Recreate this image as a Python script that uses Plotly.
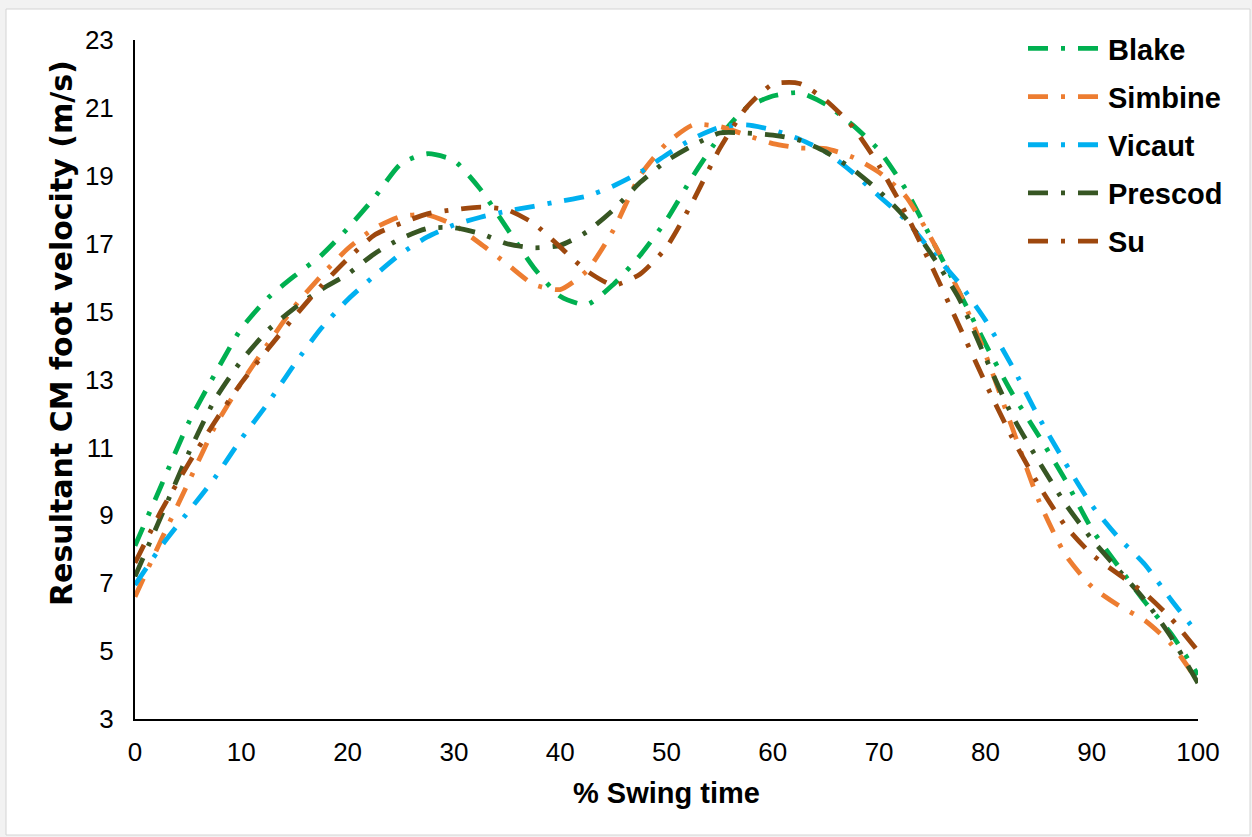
import plotly.graph_objects as go

swing_pct = [0, 2.5, 5, 7.5, 10, 12.5, 15, 17.5, 20, 22.5, 25, 27.5, 30, 32.5, 35, 37.5, 40,
             42.5, 45, 47.5, 50, 52.5, 55, 57.5, 60, 62.5, 65, 67.5, 70, 72.5, 75, 77.5, 80,
             82.5, 85, 87.5, 90, 92.5, 95, 97.5, 100]

blake = [8.1, 9.9, 11.7, 13.15, 14.5, 15.4, 16.05, 16.65, 17.45, 18.35, 19.35, 19.65, 19.45,
         18.6, 17.45, 16.3, 15.45, 15.2, 15.8, 16.65, 17.7, 19.0, 20.15, 21.0, 21.35, 21.45,
         21.1, 20.5, 19.75, 18.6, 17.1, 15.6, 14.05, 12.6, 11.35, 10.05, 8.6, 7.5, 6.45, 5.5, 4.3]
simbine = [6.6, 8.3, 9.95, 11.6, 12.9, 14.05, 15.15, 16.05, 16.85, 17.45, 17.8, 17.85, 17.55,
           17.0, 16.4, 15.8, 15.65, 16.2, 17.4, 19.0, 19.95, 20.5, 20.45, 20.2, 19.95, 19.82,
           19.8, 19.55, 19.1, 18.4, 17.1, 15.6, 13.75, 11.6, 9.45, 7.85, 6.9, 6.35, 5.9, 5.2, 4.1]
vicaut = [6.95, 8.1, 9.1, 10.1, 11.25, 12.3, 13.45, 14.5, 15.35, 16.05, 16.7, 17.2, 17.55,
          17.78, 17.96, 18.1, 18.25, 18.4, 18.7, 19.1, 19.62, 20.1, 20.43, 20.5, 20.35, 20.08,
          19.7, 19.1, 18.4, 17.7, 16.75, 15.85, 14.75, 13.4, 11.9, 10.55, 9.3, 8.35, 7.55, 6.5, 5.5]
prescod = [7.2, 9.0, 10.8, 12.4, 13.55, 14.45, 15.1, 15.65, 16.1, 16.7, 17.15, 17.45, 17.47,
           17.3, 17.0, 16.88, 16.95, 17.35, 18.0, 18.8, 19.44, 19.9, 20.26, 20.26, 20.2, 20.05,
           19.7, 19.2, 18.55, 17.75, 16.65, 15.4, 13.65, 11.95, 10.6, 9.35, 8.3, 7.4, 6.5, 5.4, 4.05]
su = [7.6, 9.15, 10.5, 11.75, 12.9, 13.9, 14.85, 15.75, 16.55, 17.25, 17.6, 17.88, 18.0,
      18.08, 18.0, 17.6, 16.9, 16.2, 15.78, 16.1, 16.9, 18.26, 19.8, 21.0, 21.7, 21.72,
      21.22, 20.45, 19.3, 17.9, 16.3, 14.6, 12.9, 11.3, 9.9, 8.7, 7.85, 7.27, 6.7, 5.95, 5.0]

series_names = ["Blake", "Simbine", "Vicaut", "Prescod", "Su"]
series_values = [blake, simbine, vicaut, prescod, su]
series_colors = ["#00B050", "#ED7D31", "#00B0F0", "#375623", "#9E480E"]

x_ticks = list(range(0, 101, 10))
y_ticks = list(range(3, 24, 2))

fig = go.Figure()
for name, vals, col in zip(series_names, series_values, series_colors):
    fig.add_trace(go.Scatter(
        x=swing_pct, y=vals, name=name, mode="lines", legendgroup=name,
        line=dict(color=col, width=4.8, dash="20px,13px,4px,13px", shape="spline", smoothing=0.6),
    ))

L, R, T, B = 135, 1198, 40, 719
W, H = 1252, 837
pw, ph = R - L, B - T

def px(xp):
    return (xp - L) / pw

def py(yp):
    return (B - yp) / ph

fig.add_shape(type="rect", xref="paper", yref="paper",
              x0=px(6), x1=px(1250), y0=py(835), y1=py(9),
              line=dict(color="#d4d4d4", width=1), fillcolor="white", layer="below")

fig.add_annotation(text="<b>% Swing time</b>", xref="paper", yref="paper",
                   x=px(666), y=py(793), xanchor="center", yanchor="middle", showarrow=False,
                   font=dict(size=29, color="black", family="Liberation Sans, Arial, sans-serif"))
fig.add_annotation(text="<b>Resultant CM foot velocity (m/s)</b>", xref="paper", yref="paper",
                   x=px(61), y=py(333), xanchor="center", yanchor="middle", showarrow=False,
                   textangle=-90,
                   font=dict(size=30, color="black", family="DejaVu Sans, sans-serif"))

fig.update_layout(
    width=W, height=H,
    margin=dict(l=L, r=W - R, t=T, b=H - B),
    paper_bgcolor="#f2f2f2", plot_bgcolor="rgba(0,0,0,0)",
    font=dict(family="Liberation Sans, Arial, sans-serif", color="black"),
    showlegend=True,
    legend=dict(
        x=px(1023), y=py(23), xanchor="left", yanchor="top",
        font=dict(size=29, color="black", family="Liberation Sans, Arial, sans-serif", weight="bold"),
        itemwidth=75, traceorder="grouped", tracegroupgap=7.5,
        bgcolor="rgba(0,0,0,0)",
    ),
    xaxis=dict(
        range=[0, 100], tickvals=x_ticks, ticktext=[str(v) for v in x_ticks],
        showgrid=False, zeroline=False, showline=True, linecolor="black", linewidth=2,
        ticks="", tickfont=dict(size=26), ticklabelstandoff=9,
    ),
    yaxis=dict(
        range=[3, 23], tickvals=y_ticks, ticktext=[str(v) for v in y_ticks],
        showgrid=False, zeroline=False, showline=True, linecolor="black", linewidth=2,
        ticks="", tickfont=dict(size=26), ticklabelstandoff=14,
    ),
)

fig.write_html("out.html")
